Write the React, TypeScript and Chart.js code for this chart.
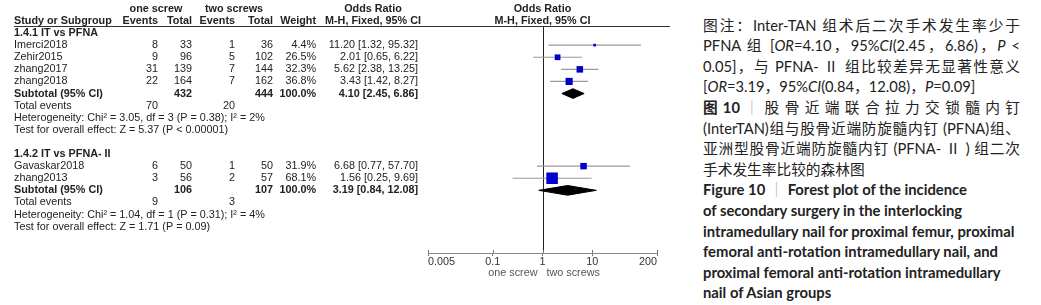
import React, { useEffect, useRef } from "react";
import { Chart, registerables } from "chart.js";
Chart.register(...registerables);

// ---------------- data ----------------
const subgroupTitles = ["1.4.1 IT vs PFNA", "1.4.2 IT vs PFNA- II"];
const studies = ["Imerci2018", "Zehir2015", "zhang2017", "zhang2018", "Gavaskar2018", "zhang2013"];
const studyGroup = [0, 0, 0, 0, 1, 1];
const oneScrewEvents = [8, 9, 31, 22, 6, 3];
const oneScrewTotal = [33, 96, 139, 164, 50, 56];
const twoScrewEvents = [1, 5, 7, 7, 1, 2];
const twoScrewTotal = [36, 102, 144, 162, 50, 57];
const weights = [4.4, 26.5, 32.3, 36.8, 31.9, 68.1];
const oddsRatio = [11.2, 2.01, 5.62, 3.43, 6.68, 1.56];
const ciLower = [1.32, 0.65, 2.38, 1.42, 0.77, 0.25];
const ciUpper = [95.32, 6.22, 13.25, 8.27, 57.7, 9.69];

const subtotalOneTotal = [432, 106];
const subtotalTwoTotal = [444, 107];
const subtotalWeight = [100.0, 100.0];
const subtotalOR = [4.1, 3.19];
const subtotalLower = [2.45, 0.84];
const subtotalUpper = [6.86, 12.08];
const totalEventsOne = [70, 9];
const totalEventsTwo = [20, 3];
const heterogeneity = [
  "Heterogeneity: Chi\u00b2 = 3.05, df = 3 (P = 0.38); I\u00b2 = 2%",
  "Heterogeneity: Chi\u00b2 = 1.04, df = 1 (P = 0.31); I\u00b2 = 4%",
];
const overallEffect = [
  "Test for overall effect: Z = 5.37 (P < 0.00001)",
  "Test for overall effect: Z = 1.71 (P = 0.09)",
];

const groupHeaders = ["one screw", "two screws"];
const columnHeaders = ["Study or Subgroup", "Events", "Total", "Events", "Total", "Weight"];
const effectHeader = ["Odds Ratio", "M-H, Fixed, 95% CI"];
const axisTicks = [0.005, 0.1, 1, 10, 200];
const axisTickLabels = ["0.005", "0.1", "1", "10", "200"];
const favoursLabels = ["one screw", "two screws"];

type Seg = [string, string];
const captionZh: Seg[][] = [
  [["图注：Inter-TAN 组术后二次手术发生率少于", ""]],
  [["PFNA 组 [", ""], ["OR", "i"], ["=4.10，95%", ""], ["CI", "i"], ["(2.45，6.86)，", ""], ["P", "i"], [" <", ""]],
  [["0.05]，与 PFNA- Ⅱ 组比较差异无显著性意义", ""]],
  [["[", ""], ["OR", "i"], ["=3.19，95%", ""], ["CI", "i"], ["(0.84，12.08)，", ""], ["P", "i"], ["=0.09]", ""]],
  [["图 10", "b"], [" ｜ ", "bar"], ["股 骨 近 端 联 合 拉 力 交 锁 髓 内 钉", ""]],
  [["(InterTAN)组与股骨近端防旋髓内钉 (PFNA)组、", ""]],
  [["亚洲型股骨近端防旋髓内钉 (PFNA- Ⅱ ) 组二次", ""]],
  [["手术发生率比较的森林图", ""]],
];
const captionZhJustify = [true, true, true, false, true, true, true, false];
const captionEn: Seg[][] = [
  [["Figure 10", ""], [" ｜ ", "bar"], ["Forest plot of the incidence", ""]],
  [["of secondary surgery in the interlocking", ""]],
  [["intramedullary nail for proximal femur, proximal", ""]],
  [["femoral anti-rotation intramedullary nail, and", ""]],
  [["proximal femoral anti-rotation intramedullary", ""]],
  [["nail of Asian groups", ""]],
];

// ---------------- layout ----------------
const W = 690;
const H = 305;
const PLOT_LEFT = 428;
const PLOT_RIGHT = 657;
const PLOT_TOP = 27;
const AXIS_Y = 253;
const ROW_PX = 12.1;
const FONT = '"Liberation Sans", Arial, sans-serif';
const FS = 10.8;
const TXT = "#222";
const COL = {
  study: 14, ev1: 158, tot1: 192, ev2: 235, tot2: 273, weight: 316, ci: 418, ciHead: 373, lineEnd: 670,
  grp1: 156, grp2: 234,
};

type Row = { kind: string; g: number; s?: number };
function buildRows(): Row[] {
  const rows: Row[] = [];
  subgroupTitles.forEach((_, g) => {
    if (g > 0) rows.push({ kind: "blank", g });
    rows.push({ kind: "title", g });
    studies.forEach((__, s) => {
      if (studyGroup[s] === g) rows.push({ kind: "study", g, s });
    });
    rows.push({ kind: "subtotal", g });
    rows.push({ kind: "events", g });
    rows.push({ kind: "het", g });
    rows.push({ kind: "test", g });
  });
  return rows;
}
const rows = buildRows();
const studyRow = studies.map((_, s) => rows.findIndex((r) => r.kind === "study" && r.s === s));
const subtotalRow = subgroupTitles.map((_, g) => rows.findIndex((r) => r.kind === "subtotal" && r.g === g));

const fmtCI = (o: number, l: number, u: number) => `${o.toFixed(2)} [${l.toFixed(2)}, ${u.toFixed(2)}]`;

const forestPlugin = {
  id: "forestTable",
  beforeDatasetsDraw(chart: any) {
    const { ctx, chartArea, scales } = chart;
    const px = Math.round(scales.x.getPixelForValue(1)) + 0.5;
    ctx.save();
    ctx.strokeStyle = "#222";
    ctx.lineWidth = 1;
    ctx.beginPath();
    ctx.moveTo(px, chartArea.top);
    ctx.lineTo(px, chartArea.bottom);
    ctx.stroke();
    ctx.restore();
  },
  afterDraw(chart: any) {
    const { ctx, scales, chartArea } = chart;
    const xs = scales.x;
    const ys = scales.y;
    const yOf = (r: number) => ys.getPixelForValue(r);
    const put = (t: string, x: number, y: number, align: CanvasTextAlign, bold = false, color = TXT) => {
      ctx.font = `${bold ? "bold " : ""}${FS}px ${FONT}`;
      ctx.fillStyle = color;
      ctx.textAlign = align;
      ctx.textBaseline = "middle";
      ctx.fillText(t, x, y);
    };
    ctx.save();
    // headers
    const h1 = yOf(-2);
    const h2 = yOf(-1);
    const x1 = xs.getPixelForValue(1);
    put(groupHeaders[0], COL.grp1, h1, "center", true);
    put(groupHeaders[1], COL.grp2, h1, "center", true);
    put(effectHeader[0], COL.ciHead, h1, "center", true);
    put(effectHeader[0], x1, h1, "center", true);
    put(columnHeaders[0], COL.study, h2, "left", true);
    put(columnHeaders[1], COL.ev1, h2, "right", true);
    put(columnHeaders[2], COL.tot1, h2, "right", true);
    put(columnHeaders[3], COL.ev2, h2, "right", true);
    put(columnHeaders[4], COL.tot2, h2, "right", true);
    put(columnHeaders[5], COL.weight, h2, "right", true);
    put(effectHeader[1], COL.ciHead, h2, "center", true);
    put(effectHeader[1], x1, h2, "center", true);
    ctx.strokeStyle = "#333";
    ctx.lineWidth = 1;
    ctx.beginPath();
    ctx.moveTo(COL.study, chartArea.top - 0.5);
    ctx.lineTo(COL.lineEnd, chartArea.top - 0.5);
    ctx.stroke();

    rows.forEach((r, i) => {
      const y = yOf(i);
      const g = r.g;
      if (r.kind === "title") put(subgroupTitles[g], COL.study, y, "left", true);
      if (r.kind === "study") {
        const s = r.s as number;
        put(studies[s], COL.study, y, "left");
        put(String(oneScrewEvents[s]), COL.ev1, y, "right");
        put(String(oneScrewTotal[s]), COL.tot1, y, "right");
        put(String(twoScrewEvents[s]), COL.ev2, y, "right");
        put(String(twoScrewTotal[s]), COL.tot2, y, "right");
        put(weights[s].toFixed(1) + "%", COL.weight, y, "right");
        put(fmtCI(oddsRatio[s], ciLower[s], ciUpper[s]), COL.ci, y, "right");
      }
      if (r.kind === "subtotal") {
        put("Subtotal (95% CI)", COL.study, y, "left", true);
        put(String(subtotalOneTotal[g]), COL.tot1, y, "right", true);
        put(String(subtotalTwoTotal[g]), COL.tot2, y, "right", true);
        put(subtotalWeight[g].toFixed(1) + "%", COL.weight, y, "right", true);
        put(fmtCI(subtotalOR[g], subtotalLower[g], subtotalUpper[g]), COL.ci, y, "right", true);
      }
      if (r.kind === "events") {
        put("Total events", COL.study, y, "left");
        put(String(totalEventsOne[g]), COL.ev1, y, "right");
        put(String(totalEventsTwo[g]), COL.ev2, y, "right");
      }
      if (r.kind === "het") put(heterogeneity[g], COL.study, y, "left");
      if (r.kind === "test") put(overallEffect[g], COL.study, y, "left");
    });

    // upper half of axis tick marks
    ctx.strokeStyle = "#777";
    axisTicks.forEach((v) => {
      const px = Math.round(xs.getPixelForValue(v)) + 0.5;
      ctx.beginPath();
      ctx.moveTo(px, chartArea.bottom - 3);
      ctx.lineTo(px, chartArea.bottom);
      ctx.stroke();
    });
    // favours labels
    const fy = chartArea.bottom + 20;
    put(favoursLabels[0], x1 - 5, fy, "right", false, "#555");
    put(favoursLabels[1], x1 + 4, fy, "left", false, "#555");
    ctx.restore();
  },
};

function renderSegs(segs: Seg[]) {
  return segs.map(([t, st], k) => {
    const style: React.CSSProperties = {};
    if (st === "i") style.fontStyle = "italic";
    if (st === "b") style.fontWeight = 700;
    if (st === "bar") {
      style.color = "#aaa";
      style.fontWeight = 400;
    }
    return (
      <span key={k} style={style}>
        {t}
      </span>
    );
  });
}

export default function App() {
  const ref = useRef<HTMLCanvasElement>(null);
  useEffect(() => {
    const canvas = ref.current;
    if (!canvas) return;
    const squareSide = (w: number) => 2 + 0.14 * w;
    const datasets: any[] = [];
    datasets.push({
      type: "scatter",
      data: studies.map((_, s) => ({ x: oddsRatio[s], y: studyRow[s] })),
      pointStyle: "rect",
      pointRadius: studies.map((_, s) => squareSide(weights[s]) / Math.SQRT2),
      pointBackgroundColor: "#0000CC",
      pointBorderColor: "#0000CC",
      pointBorderWidth: 0,
      showLine: false,
    });
    subgroupTitles.forEach((_, g) => {
      const r = subtotalRow[g];
      datasets.push({
        type: "line",
        data: [
          { x: subtotalLower[g], y: r },
          { x: subtotalOR[g], y: r - 0.4 },
          { x: subtotalUpper[g], y: r },
          { x: subtotalOR[g], y: r + 0.4 },
          { x: subtotalLower[g], y: r },
        ],
        borderColor: "#000",
        backgroundColor: "#000",
        borderWidth: 1,
        fill: "shape",
        pointRadius: 0,
        tension: 0,
      });
    });
    studies.forEach((_, s) => {
      datasets.push({
        type: "line",
        data: [
          { x: ciLower[s], y: studyRow[s] },
          { x: ciUpper[s], y: studyRow[s] },
        ],
        borderColor: "#999",
        borderWidth: 1.2,
        pointRadius: 0,
        fill: false,
      });
    });

    const chart = new Chart(canvas, {
      type: "scatter",
      data: { datasets },
      options: {
        responsive: false,
        animation: false,
        devicePixelRatio: 1,
        events: [],
        layout: { padding: { left: PLOT_LEFT, right: W - PLOT_RIGHT, top: PLOT_TOP, bottom: 0 } },
        plugins: { legend: { display: false }, tooltip: { enabled: false }, title: { display: false } },
        scales: {
          x: {
            type: "logarithmic",
            min: axisTicks[0],
            max: axisTicks[axisTicks.length - 1],
            beginAtZero: false,
            position: "bottom",
            afterBuildTicks: (axis: any) => {
              axis.ticks = axisTicks.map((v) => ({ value: v, major: false }));
            },
            afterFit: (axis: any) => {
              axis.height = H - AXIS_Y;
            },
            ticks: {
              callback: (_v: any, i: number) => axisTickLabels[i],
              color: "#333",
              font: { family: FONT, size: FS },
              padding: 0,
              autoSkip: false,
              maxRotation: 0,
              align: "inner",
            },
            grid: { drawOnChartArea: false, drawTicks: true, tickLength: 3, color: "#777" },
            border: { display: true, color: "#888", width: 1 },
          },
          y: {
            type: "linear",
            display: false,
            reverse: true,
            min: -0.5,
            max: -0.5 + (AXIS_Y - PLOT_TOP) / ROW_PX,
            offset: false,
            grid: { offset: false },
          },
        },
      } as any,
      plugins: [forestPlugin],
    });
    return () => chart.destroy();
  }, []);

  const capFont = 'Lato, "Noto Sans CJK SC", sans-serif';
  return (
    <div style={{ position: "absolute", left: 0, top: 0, width: 1041, height: 305, background: "#fff", overflow: "hidden" }}>
      <canvas ref={ref} width={W} height={H} style={{ position: "absolute", left: 0, top: 0, width: W, height: H }} />
      <div style={{ position: "absolute", left: 703, top: 14.7, width: 317, color: "#222" }}>
        {captionZh.map((segs, i) => (
          <div
            key={"zh" + i}
            style={{
              height: 20.6,
              lineHeight: "20.6px",
              fontFamily: capFont,
              fontSize: 14.7,
              textAlign: captionZhJustify[i] ? "justify" : "left",
              textAlignLast: captionZhJustify[i] ? "justify" : "left",
              overflow: "hidden",
            }}
          >
            {renderSegs(segs)}
          </div>
        ))}
        {captionEn.map((segs, i) => (
          <div
            key={"en" + i}
            style={{
              height: 20.6,
              lineHeight: "20.6px",
              fontFamily: capFont,
              fontSize: 14.8,
              fontWeight: 700,
              whiteSpace: "nowrap",
            }}
          >
            {renderSegs(segs)}
          </div>
        ))}
      </div>
    </div>
  );
}
